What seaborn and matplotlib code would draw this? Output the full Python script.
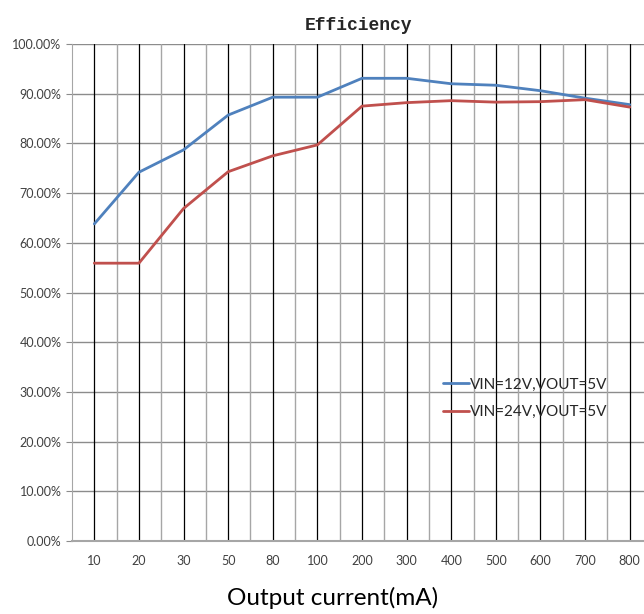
import numpy as np
import pandas as pd
import matplotlib
matplotlib.use("Agg")
import matplotlib.pyplot as plt
from matplotlib.ticker import FixedLocator, PercentFormatter
import seaborn as sns

# data
currents = ["10", "20", "30", "50", "80", "100", "200", "300", "400", "500", "600", "700", "800"]
eff_12v = [63.8, 74.2, 78.7, 85.7, 89.3, 89.3, 93.1, 93.1, 92.0, 91.7, 90.6, 89.1, 87.8]
eff_24v = [55.9, 55.9, 66.9, 74.3, 77.5, 79.7, 87.5, 88.2, 88.6, 88.3, 88.4, 88.8, 87.3]
labels = ["VIN=12V,VOUT=5V", "VIN=24V,VOUT=5V"]

df = pd.DataFrame({
    "current": currents * 2,
    "eff": eff_12v + eff_24v,
    "series": [labels[0]] * len(currents) + [labels[1]] * len(currents),
})

sns.set_style("white")
plt.rcParams["font.family"] = ["Lato", "DejaVu Sans"]

fig = plt.figure(figsize=(6.44, 6.14), dpi=100)
ax = fig.add_axes([72 / 644, 1 - 541 / 614, 1 - 72 / 644, (541 - 44) / 614])

# grid
for y in range(10, 101, 10):
    ax.axhline(y, color="#8c8c8c", lw=1.0, zorder=0)
for i in range(len(currents)):
    ax.axvline(i, color="black", lw=0.9, zorder=0)
    ax.axvline(i + 0.5, color="#a6a6a6", lw=1.0, zorder=0)

sns.lineplot(data=df, x="current", y="eff", hue="series", sort=False,
             palette=["#4f81bd", "#c0504d"], lw=2.0, ax=ax)

ax.set_xlim(-0.5, 12.32)
ax.set_ylim(0, 100)
ax.set_yticks(np.arange(0, 101, 10))
ax.yaxis.set_major_formatter(PercentFormatter(decimals=2))
ax.set_xticks(range(len(currents)))
ax.set_xticklabels(currents)
ax.xaxis.set_minor_locator(FixedLocator(np.arange(-0.5, 13, 1)))
ax.tick_params(axis="x", which="major", length=0, pad=10, labelsize=9)
ax.tick_params(axis="x", which="minor", length=5, color="#a6a6a6", width=1)
ax.tick_params(axis="y", length=4, color="#8c8c8c", labelsize=9, left=True)
for lab in ax.get_xticklabels() + ax.get_yticklabels():
    lab.set_color("#404040")

for side in ["top", "right"]:
    ax.spines[side].set_visible(False)
ax.spines["left"].set_color("#a6a6a6")
ax.spines["bottom"].set_color("#a6a6a6")
ax.spines["bottom"].set_linewidth(1.5)

ax.set_xlabel("")
ax.set_ylabel("")
ax.set_title("Efficiency", family="Liberation Mono", fontweight="bold", fontsize=13, pad=10)
fig.text(333 / 644, 1 - 598 / 614, "Output current(mA)", ha="center", va="center",
         fontsize=17.5, color="black")

ax.legend(title=None, loc="upper left", bbox_to_anchor=(368 / 580, 1 - (370 - 44) / 497),
          frameon=False, fontsize=11, handlelength=1.7, handletextpad=0.1,
          labelspacing=0.9, borderpad=0)

fig.savefig("out.png", dpi=100)
